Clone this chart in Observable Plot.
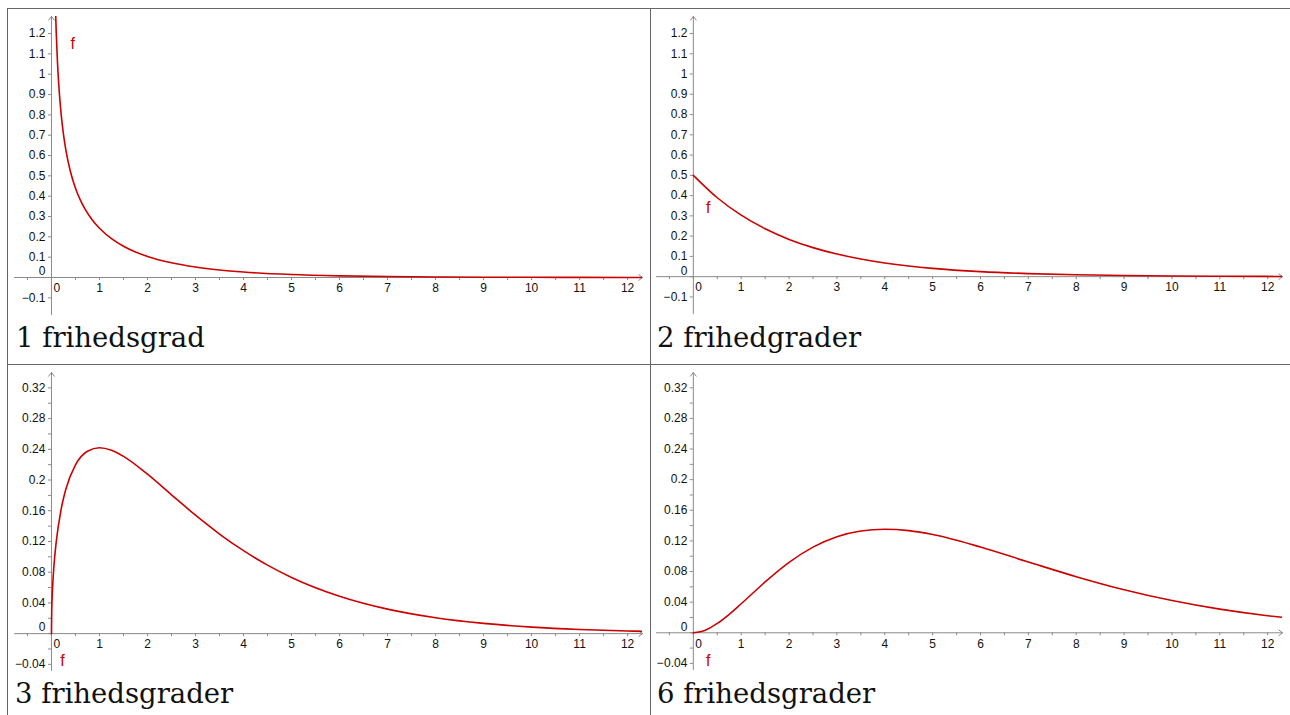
<!DOCTYPE html>
<html><head><meta charset="utf-8">
<script src="https://cdn.jsdelivr.net/npm/d3@7"></script>
<script src="https://cdn.jsdelivr.net/npm/@observablehq/plot@0.6"></script>
<style>
html,body{margin:0;padding:0;background:#fff}
body{width:1290px;height:715px;overflow:hidden;position:relative;font-family:"Liberation Sans",Arial,sans-serif}
.hl{position:absolute;background:#666}
.panel{position:absolute}
.cap{position:absolute;font-family:"DejaVu Serif",serif;font-size:27.5px;line-height:27.5px;color:#111;white-space:nowrap}
</style></head><body>
<div class="hl" style="left:7px;top:7.5px;width:1290px;height:1.6px"></div>
<div class="hl" style="left:7px;top:8px;width:1.4px;height:720px"></div>
<div class="hl" style="left:649.5px;top:8px;width:1.2px;height:720px"></div>
<div class="hl" style="left:7px;top:363.5px;width:1290px;height:1.2px"></div>
<div id="p1" class="panel" style="left:8px;top:8px"></div>
<div id="p2" class="panel" style="left:650px;top:8px"></div>
<div id="p3" class="panel" style="left:8px;top:364px"></div>
<div id="p4" class="panel" style="left:650px;top:364px"></div>
<div class="cap" style="left:16px;top:324px">1 frihedsgrad</div>
<div class="cap" style="left:657px;top:324px">2 frihedgrader</div>
<div class="cap" style="left:15px;top:680px">3 frihedsgrader</div>
<div class="cap" style="left:657px;top:680px">6 frihedsgrader</div>
<script>
// ---- data ----
const xDomain = [-0.77, 12.31];
const xLabels = [0,1,2,3,4,5,6,7,8,9,10,11,12];
const xMinorTicks = [-0.5,0,0.5,1,1.5,2,2.5,3,3.5,4,4.5,5,5.5,6,6.5,7,7.5,8,8.5,9,9.5,10,10.5,11,11.5,12];

const yDomainTop = [-0.182, 1.284];
const yLabelsTop = [-0.1,0,0.1,0.2,0.3,0.4,0.5,0.6,0.7,0.8,0.9,1,1.1,1.2];
const yDomainBottom = [-0.048, 0.340];
const yLabelsBottom = [-0.04,0,0.04,0.08,0.12,0.16,0.2,0.24,0.28,0.32];
const yMinorBottom = [-0.04,-0.02,0,0.02,0.04,0.06,0.08,0.1,0.12,0.14,0.16,0.18,0.2,0.22,0.24,0.26,0.28,0.3,0.32];

// 1 degree of freedom
const df1X = [0.05,0.06,0.07,0.085,0.1,0.125,0.15,0.2,0.25,0.3,0.4,0.5,0.6,0.7,0.85,1,1.25,1.5,1.75,2,2.5,3,3.5,4,5,6,7,8,9,10,11,12,12.3];
const df1Y = [1.7401,1.5805,1.456,1.3114,1.2000,1.0600,0.9556,0.8072,0.7041,0.6269,0.5164,0.4394,0.3815,0.3360,0.2829,0.2420,0.1910,0.1539,0.1257,0.1038,0.0723,0.0514,0.0371,0.0270,0.0146,0.0081,0.0046,0.0026,0.0015,0.0009,0.0005,0.0003,0.0003];
// 2 degrees of freedom
const df2X = [0,0.5,1,1.5,2,2.5,3,3.5,4,4.5,5,6,7,8,9,10,11,12,12.3];
const df2Y = [0.5,0.3894,0.3033,0.2362,0.1839,0.1433,0.1116,0.0869,0.0677,0.0527,0.0410,0.0249,0.0151,0.0092,0.0056,0.0034,0.0020,0.0012,0.0011];
// 3 degrees of freedom
const df3X = [0,0.005,0.01,0.02,0.05,0.1,0.2,0.3,0.5,0.75,1,1.25,1.5,2,2.5,3,3.5,4,4.5,5,6,7,8,9,10,11,12,12.3];
const df3Y = [0,0.0281,0.0397,0.0559,0.0870,0.1200,0.1614,0.1881,0.2197,0.2375,0.2420,0.2387,0.2308,0.2076,0.1807,0.1542,0.1297,0.1080,0.0892,0.0732,0.0487,0.0319,0.0207,0.0133,0.0085,0.0054,0.0034,0.0030];
// 6 degrees of freedom
const df6X = [0,0.25,0.5,0.75,1,1.5,2,2.5,3,3.5,4,4.5,5,5.5,6,7,8,9,10,11,12,12.3];
const df6Y = [0,0.0034,0.0122,0.0242,0.0379,0.0664,0.0920,0.1119,0.1255,0.1330,0.1353,0.1334,0.1283,0.1209,0.1120,0.0925,0.0733,0.0562,0.0421,0.0309,0.0223,0.0202];

// positions of the "f" curve labels
const fLabels = [{x:0.44,y:1.15},{x:0.31,y:0.34},{x:0.23,y:-0.035},{x:0.31,y:-0.037}];

const red = "#cc0000";
const axisGray = "#8a8a8a";
const fmt = d => (d < 0 ? "\u2212" : "") + String(Math.abs(d));

function panel(el, xs, ys, yDomain, yLabels, yMinor, fPos) {
  const data = xs.map((x, i) => ({x, y: ys[i]}));
  const axes = [
    {x1: xDomain[0], y1: 0, x2: xDomain[1], y2: 0},
    {x1: 0, y1: yDomain[0], x2: 0, y2: yDomain[1]}
  ];
  const chart = Plot.plot({
    width: 642, height: 310,
    marginLeft: 6, marginRight: 8, marginTop: 8, marginBottom: 4,
    x: {domain: xDomain, axis: null},
    y: {domain: yDomain, axis: null},
    style: {fontFamily: "Liberation Sans, Arial, sans-serif", fontSize: "12px", background: "transparent", overflow: "visible"},
    marks: [
      Plot.arrow(axes, {x1: "x1", y1: "y1", x2: "x2", y2: "y2", stroke: axisGray, strokeWidth: 1, headLength: 7, headAngle: 75}),
      Plot.ruleX(xMinorTicks, {x: d => d, y1: 0, y2: 0, insetBottom: -3, stroke: axisGray, strokeWidth: 1}),
      Plot.ruleY(yMinor, {y: d => d, x1: 0, x2: 0, insetLeft: -3, stroke: axisGray, strokeWidth: 1}),
      Plot.line(data, {x: "x", y: "y", stroke: red, strokeWidth: 1.6, curve: "monotone-x", clip: true}),
      Plot.text(xLabels.filter(d => d !== 0), {x: d => d, y: 0, dy: 11, text: fmt, fill: "#111"}),
      Plot.text([0], {x: d => d, y: 0, dx: 2, dy: 11, textAnchor: "start", text: fmt, fill: "#111"}),
      Plot.text(yLabels.filter(d => d !== 0), {x: 0, y: d => d, dx: -6, textAnchor: "end", text: fmt, fill: "#111"}),
      Plot.text([0], {x: 0, y: d => d, dx: -6, dy: -6, textAnchor: "end", text: fmt, fill: "#111"}),
      Plot.text([fPos], {x: "x", y: "y", text: () => "f", fill: red, fontSize: 16})
    ]
  });
  document.getElementById(el).appendChild(chart);
}

panel("p1", df1X, df1Y, yDomainTop, yLabelsTop, yLabelsTop, fLabels[0]);
panel("p2", df2X, df2Y, yDomainTop, yLabelsTop, yLabelsTop, fLabels[1]);
panel("p3", df3X, df3Y, yDomainBottom, yLabelsBottom, yMinorBottom, fLabels[2]);
panel("p4", df6X, df6Y, yDomainBottom, yLabelsBottom, yMinorBottom, fLabels[3]);
</script>
</body></html>
